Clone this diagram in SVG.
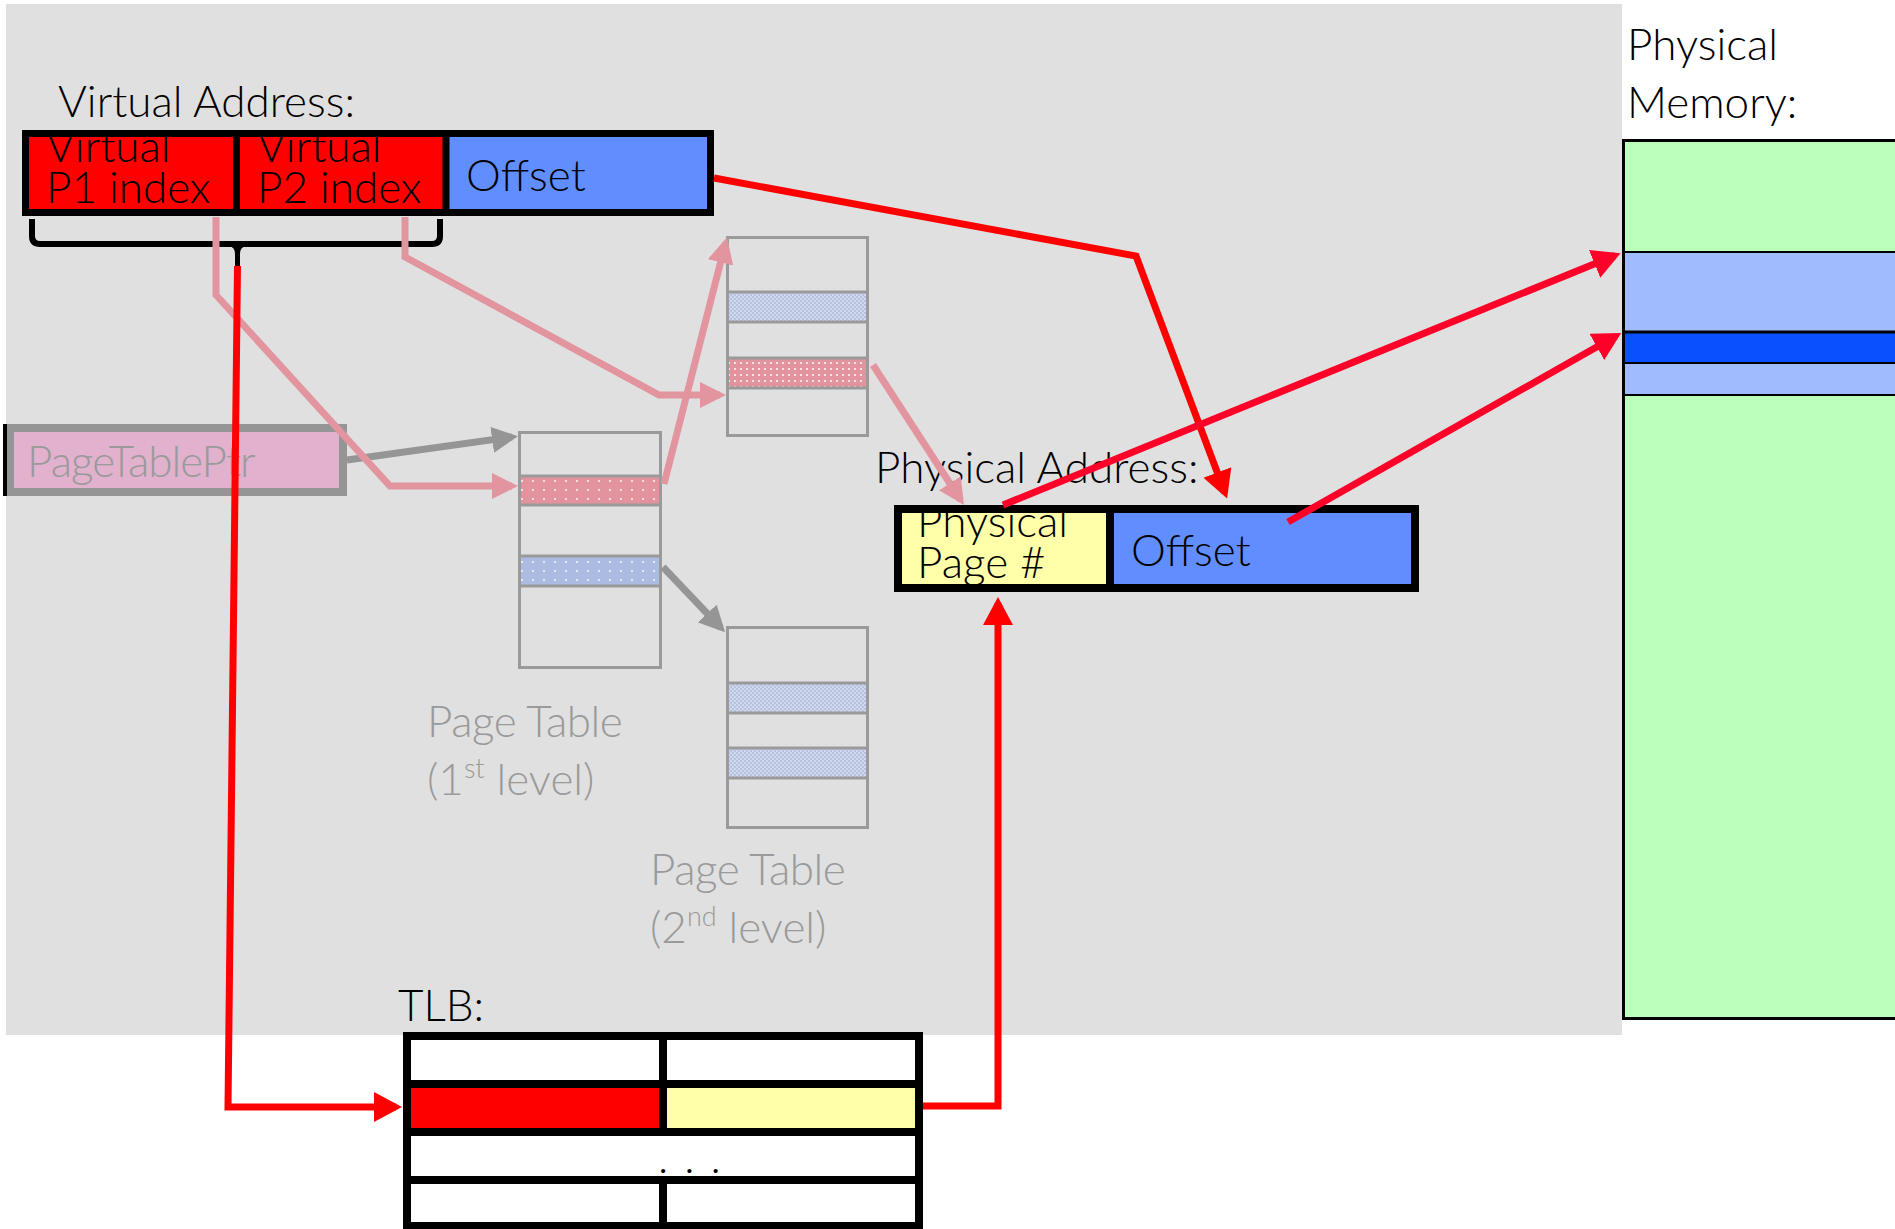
<svg xmlns="http://www.w3.org/2000/svg" width="1895" height="1229" viewBox="0 0 1895 1229">
<style>
text{font-family:Lato,"Liberation Sans",sans-serif;font-weight:300;font-size:44px;fill:#000}
.g{fill:#9a9a9a}
.pt{fill:none;stroke:#9a9a9a;stroke-width:3}
.red{fill:none;stroke:#ff0000;stroke-width:7;stroke-linejoin:miter}
.crim{fill:none;stroke:#ff0028;stroke-width:7}
.pink{fill:none;stroke:#e2949f;stroke-width:7}
.gray{fill:none;stroke:#959595;stroke-width:7}
.blk{fill:none;stroke:#000}
</style>
<defs>
<marker id="aRed" markerUnits="userSpaceOnUse" markerWidth="28" markerHeight="30" refX="22" refY="15" orient="auto"><path d="M0,0 L28,15 L0,30 z" fill="#ff0000"/></marker>
<marker id="aCrim" markerUnits="userSpaceOnUse" markerWidth="28" markerHeight="30" refX="22" refY="15" orient="auto"><path d="M0,0 L28,15 L0,30 z" fill="#ff0028"/></marker>
<marker id="aPink" markerUnits="userSpaceOnUse" markerWidth="26" markerHeight="26" refX="20" refY="13" orient="auto"><path d="M0,0 L26,13 L0,26 z" fill="#e2949f"/></marker>
<marker id="aGray" markerUnits="userSpaceOnUse" markerWidth="26" markerHeight="26" refX="20" refY="13" orient="auto"><path d="M0,0 L26,13 L0,26 z" fill="#959595"/></marker>
<pattern id="pinkSparse" width="11" height="9" patternUnits="userSpaceOnUse"><rect width="11" height="9" fill="#e2939e"/><rect x="4" y="3" width="2" height="2" fill="#f4dde0"/></pattern>
<pattern id="blueSparse" width="11" height="9" patternUnits="userSpaceOnUse"><rect width="11" height="9" fill="#abbbe2"/><rect x="4" y="3" width="2" height="2" fill="#e2e8f4"/></pattern>
<pattern id="pinkDense" width="6" height="6" patternUnits="userSpaceOnUse"><rect width="6" height="6" fill="#e2939e"/><rect x="2" y="2" width="2" height="2" fill="#f6e2e5"/></pattern>
<pattern id="blueCheck" width="4" height="4" patternUnits="userSpaceOnUse"><rect width="4" height="4" fill="#d4d9ea"/><rect width="2" height="2" fill="#b4c1e2"/><rect x="2" y="2" width="2" height="2" fill="#b4c1e2"/></pattern>
</defs>

<rect id="background" x="6" y="4" width="1616" height="1031" fill="#e0e0e0"/>

<g id="virtual-address">
<text x="58" y="117">Virtual Address:</text>
<rect x="22" y="130" width="214" height="86" fill="#ff0000"/>
<rect x="236" y="130" width="210" height="86" fill="#ff0000"/>
<rect x="446" y="130" width="268" height="86" fill="#618eff"/>
<text x="46" y="162">Virtual</text>
<text x="46" y="203">P1 index</text>
<text x="257" y="162">Virtual</text>
<text x="257" y="203">P2 index</text>
<text x="466" y="191">Offset</text>
<rect class="blk" x="25.5" y="133.5" width="685" height="79" stroke-width="7"/>
<line class="blk" x1="236.5" y1="130" x2="236.5" y2="216" stroke-width="7"/>
<line class="blk" x1="446" y1="130" x2="446" y2="216" stroke-width="7"/>
</g>

<g id="bracket">
<path class="blk" stroke-width="6" d="M32,219 L32,236 Q32,244 40,244 L432,244 Q440,244 440,236 L440,219"/>
<path d="M229,246 Q235,247 235,254 L235,267 L240,267 L240,254 Q240,247 246,246 Z" fill="#000"/>
</g>

<g id="page-table-ptr">
<rect x="10" y="428" width="333" height="64" fill="#e1b1cd" stroke="#959595" stroke-width="8"/>
<rect x="3" y="424" width="4" height="72" fill="#000"/>
<text class="g" x="27" y="477" letter-spacing="-1">PageTablePtr</text>
</g>

<g id="page-table-1">
<rect x="519" y="476" width="141" height="29" fill="url(#pinkSparse)"/>
<rect x="519" y="556" width="141" height="30" fill="url(#blueSparse)"/>
<rect class="pt" x="519.5" y="432.5" width="141" height="235"/>
<path class="pt" d="M519,476 H661 M519,505 H661 M519,556 H661 M519,586 H661"/>
<text class="g" x="427" y="737" letter-spacing="-0.5">Page Table</text>
<text class="g" x="427" y="795">(1<tspan font-size="27" dy="-17">st</tspan><tspan dy="17"> level)</tspan></text>
</g>

<g id="page-table-2a">
<rect x="727" y="292" width="141" height="30" fill="url(#blueCheck)"/>
<rect x="727" y="358" width="141" height="30" fill="url(#pinkDense)"/>
<rect class="pt" x="727.5" y="237.5" width="140" height="198"/>
<path class="pt" d="M727,292 H868 M727,322 H868 M727,358 H868 M727,388 H868"/>
</g>

<g id="page-table-2b">
<rect x="727" y="683" width="141" height="30" fill="url(#blueCheck)"/>
<rect x="727" y="748" width="141" height="30" fill="url(#blueCheck)"/>
<rect class="pt" x="727.5" y="627.5" width="140" height="200"/>
<path class="pt" d="M727,683 H868 M727,713 H868 M727,748 H868 M727,778 H868"/>
<text class="g" x="650" y="885" letter-spacing="-0.5">Page Table</text>
<text class="g" x="650" y="943">(2<tspan font-size="27" dy="-17">nd</tspan><tspan dy="17"> level)</tspan></text>
</g>

<g id="physical-address">
<text x="875" y="483">Physical Address:</text>
<rect x="894" y="505" width="216" height="87" fill="#ffffaa"/>
<rect x="1110" y="505" width="309" height="87" fill="#618eff"/>
<text x="917" y="537">Physical</text>
<text x="917" y="578">Page #</text>
<text x="1131" y="566">Offset</text>
<rect class="blk" x="898" y="509" width="517" height="79" stroke-width="8"/>
<line class="blk" x1="1110" y1="505" x2="1110" y2="592" stroke-width="8"/>
</g>

<g id="physical-memory">
<text x="1627" y="60">Physical</text>
<text x="1627" y="118">Memory:</text>
<rect x="1623" y="140" width="280" height="112" fill="#bbffbb"/>
<rect x="1623" y="252" width="280" height="80" fill="#a0bcff"/>
<rect x="1623" y="332" width="280" height="31" fill="#0b50ff"/>
<rect x="1623" y="363" width="280" height="32" fill="#a0bcff"/>
<rect x="1623" y="395" width="280" height="623" fill="#bbffbb"/>
<rect class="blk" x="1623.5" y="140.5" width="280" height="878" stroke-width="3"/>
<path class="blk" stroke-width="2" d="M1623,252 H1895 M1623,363 H1895 M1623,395 H1895"/>
<path class="blk" stroke-width="3" d="M1623,332 H1895"/>
</g>

<g id="tlb">
<text x="398" y="1021">TLB:</text>
<rect x="407" y="1036" width="512" height="190" fill="#ffffff"/>
<rect x="407" y="1084" width="256" height="48" fill="#ff0000"/>
<rect x="663" y="1084" width="256" height="48" fill="#ffffaa"/>
<text x="658" y="1173" font-size="40" letter-spacing="2">. . .</text>
<rect class="blk" x="407" y="1036" width="512" height="190" stroke-width="8"/>
<path class="blk" stroke-width="8" d="M407,1084 H919 M407,1132 H919 M407,1180 H919 M663,1036 V1132 M663,1180 V1226"/>
</g>

<g id="connectors">
<path class="gray" d="M347,460 L512,437" marker-end="url(#aGray)"/>
<path class="gray" d="M663,567 L721,628" marker-end="url(#aGray)"/>
<path class="pink" d="M216,217 L216,295 L390,486 L512,486" marker-end="url(#aPink)"/>
<path class="pink" d="M405,217 L405,257 L659,395 L720,395" marker-end="url(#aPink)"/>
<path class="pink" d="M664,484 L725.5,243" marker-end="url(#aPink)"/>
<path class="pink" d="M873,365 L960.7,500" marker-end="url(#aPink)"/>
<path class="red" d="M237.5,266 L228,1107 L396,1107" marker-end="url(#aRed)"/>
<path class="red" d="M923,1106 L998,1106 L998,603" marker-end="url(#aRed)"/>
<path class="red" d="M714,178 L1136,256 L1225,493" marker-end="url(#aRed)"/>
<path class="crim" d="M1003,505 L1615,255.5" marker-end="url(#aCrim)"/>
<path class="crim" d="M1288,522 L1616,336" marker-end="url(#aCrim)"/>
</g>
</svg>
